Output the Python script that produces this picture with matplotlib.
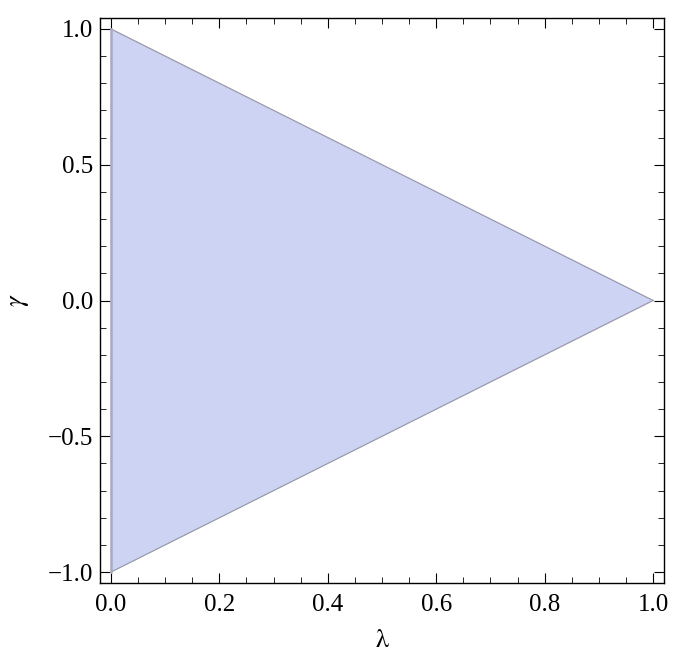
import numpy as np
import matplotlib.pyplot as plt
from matplotlib.ticker import MultipleLocator

plt.rcParams["font.family"] = ["Liberation Serif", "STIXGeneral", "DejaVu Serif"]
plt.rcParams["mathtext.fontset"] = "stix"

# region vertices (lambda, gamma)
lam = [0.0, 1.0, 0.0]
gam = [1.0, 0.0, -1.0]

fig = plt.figure(figsize=(6.81, 6.63), dpi=100)
ax = fig.add_axes([100 / 681, 1 - 583 / 663, 564 / 681, 565 / 663])

ax.fill(lam, gam, facecolor="#ccd3f3", edgecolor="none")
ax.plot(lam[:2], gam[:2], color="#9a9aae", lw=0.9)
ax.plot(lam[1:], gam[1:], color="#9a9aae", lw=0.9)
ax.plot([lam[0], lam[2]], [gam[0], gam[2]], color="#a8aac0", lw=1.8)

ax.set_xlim(-0.02, 1.02)
ax.set_ylim(-1.04, 1.04)

ax.xaxis.set_major_locator(MultipleLocator(0.2))
ax.xaxis.set_minor_locator(MultipleLocator(0.05))
ax.yaxis.set_major_locator(MultipleLocator(0.5))
ax.yaxis.set_minor_locator(MultipleLocator(0.1))
ax.xaxis.set_major_formatter(plt.FuncFormatter(lambda v, p: f"{v:.1f}"))
ax.yaxis.set_major_formatter(plt.FuncFormatter(lambda v, p: f"{v:.1f}".replace("-", "\u2212")))

ax.tick_params(which="both", direction="in", top=True, right=True, labelsize=18)
ax.tick_params(axis="x", pad=8)
ax.tick_params(axis="y", pad=5)
ax.tick_params(which="major", length=7, width=0.8)
ax.tick_params(which="minor", length=4, width=0.6)
for s in ax.spines.values():
    s.set_linewidth(1.0)

ax.set_xlabel(r"$\mathrm{\lambda}$", fontsize=19, labelpad=10)
ax.set_ylabel(r"$\gamma$", fontsize=19, labelpad=12)

plt.savefig("out.png", dpi=100)
